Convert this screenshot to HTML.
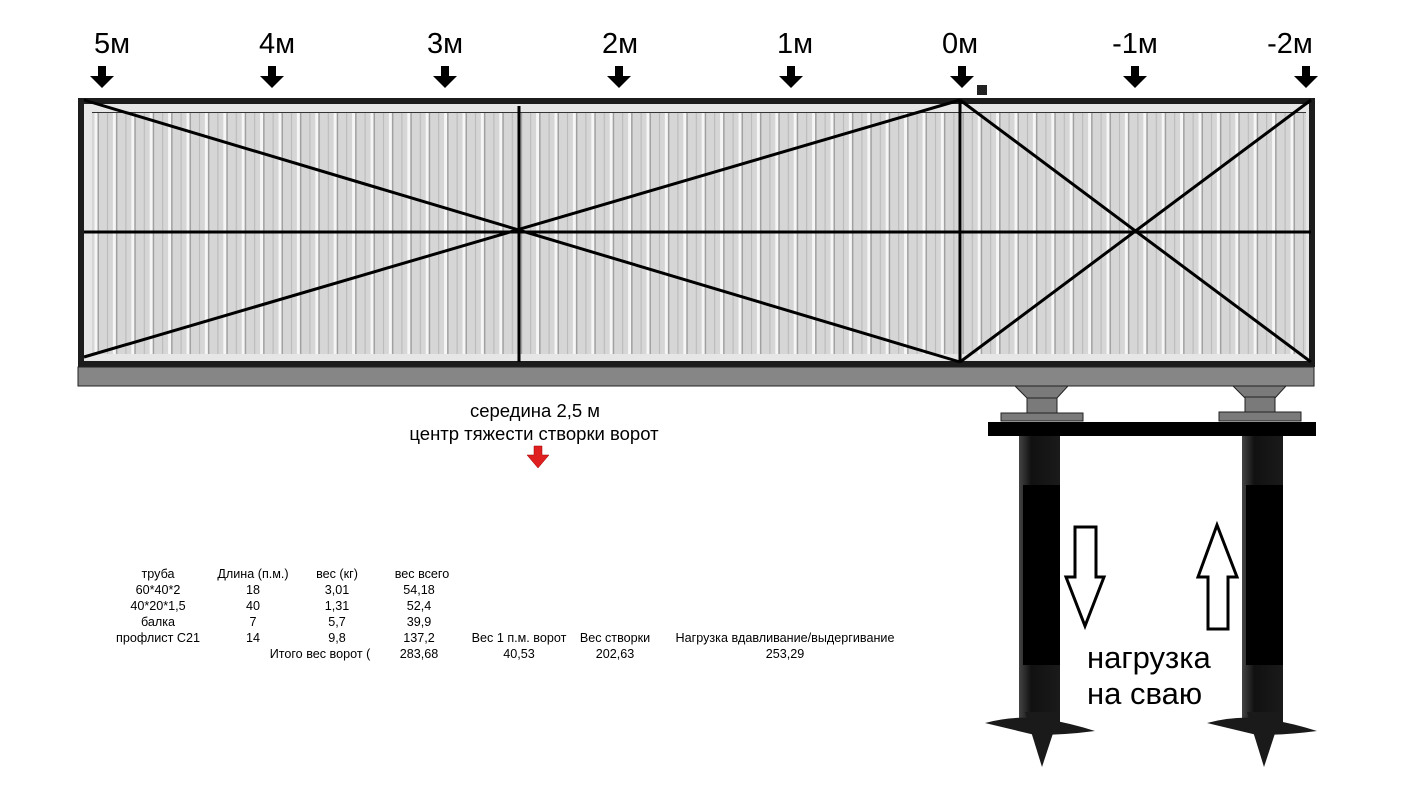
<!DOCTYPE html>
<html><head><meta charset="utf-8"><style>
body{margin:0;background:#fff;}
svg text{font-family:"Liberation Sans",sans-serif;}
</style></head><body>
<svg width="1420" height="787" viewBox="0 0 1420 787" xmlns="http://www.w3.org/2000/svg">
<defs>
<pattern id="rib" x="92" y="0" width="18.4" height="10" patternUnits="userSpaceOnUse">
<rect width="18.4" height="10" fill="#d6d6d6"/>
<rect x="2.5" width="3" height="10" fill="#f6f6f6"/>
<rect x="5.5" width="1.5" height="10" fill="#a0a0a0"/>
<rect x="15" width="1" height="10" fill="#b8b8b8"/>
</pattern>
<linearGradient id="pile" x1="0" x2="1">
<stop offset="0" stop-color="#444"/><stop offset="0.3" stop-color="#111"/><stop offset="1" stop-color="#1a1a1a"/>
</linearGradient>
</defs>

<g font-size="29" fill="#000" text-anchor="middle">
<text x="112" y="53">5м</text><text x="277" y="53">4м</text><text x="445" y="53">3м</text>
<text x="620" y="53">2м</text><text x="795" y="53">1м</text><text x="960" y="53">0м</text>
<text x="1135" y="53">-1м</text><text x="1290" y="53">-2м</text>
</g>
<g fill="#000">
<path id="da" d="M-4,66 h8 v10 h8 l-12,12 l-12,-12 h8z" transform="translate(102,0)"/>
<use href="#da" x="170"/><use href="#da" x="343"/><use href="#da" x="517"/>
<use href="#da" x="689"/><use href="#da" x="860"/><use href="#da" x="1033"/><use href="#da" x="1204"/>
</g>
<rect x="977" y="85" width="10" height="10" fill="#222"/>

<rect x="84" y="104" width="1227" height="257" fill="#e6e6e6"/>
<rect x="92" y="112" width="1214" height="242" fill="url(#rib)"/>
<rect x="92" y="112" width="1214" height="1" fill="#333"/>
<rect x="78" y="98" width="1237" height="6" fill="#1c1c1c"/>
<rect x="78" y="98" width="6" height="268" fill="#1c1c1c"/>
<rect x="1309" y="98" width="6" height="268" fill="#1c1c1c"/>
<rect x="78" y="361" width="1237" height="6" fill="#1c1c1c"/>
<rect x="78" y="367" width="1236" height="19" fill="#868686" stroke="#222" stroke-width="1"/>
<g stroke="#000" stroke-width="3">
<line x1="84" y1="232" x2="1311" y2="232"/>
<line x1="519" y1="106" x2="519" y2="362"/>
<line x1="960" y1="100" x2="960" y2="362"/>
<line x1="84" y1="100" x2="960" y2="362"/>
<line x1="84" y1="357" x2="960" y2="100"/>
<line x1="960" y1="100" x2="1311" y2="362"/>
<line x1="960" y1="362" x2="1311" y2="100"/>
</g>

<g fill="#7a7a7a" stroke="#222" stroke-width="1">
<path d="M1015,386 h53 l-11,12 h-30z"/><rect x="1027" y="398" width="30" height="15"/><rect x="1001" y="413" width="82" height="8"/>
<path d="M1233,386 h53 l-11,12 h-30z"/><rect x="1245" y="397" width="30" height="16"/><rect x="1219" y="412" width="82" height="9"/>
</g>
<rect x="988" y="422" width="328" height="14" fill="#000"/>

<rect x="1019" y="436" width="41" height="290" fill="url(#pile)"/>
<rect x="1023" y="485" width="37" height="180" fill="#000"/>
<rect x="1242" y="436" width="41" height="290" fill="url(#pile)"/>
<rect x="1246" y="485" width="37" height="180" fill="#000"/>
<g fill="#1a1a1a">
<path d="M985,723 q30,-8 60,-4 q25,4 50,12 q-30,4 -60,4z"/>
<path d="M1025,712 h35 l-18,55z"/>
<path d="M1207,723 q30,-8 60,-4 q25,4 50,12 q-30,4 -60,4z"/>
<path d="M1247,712 h35 l-18,55z"/>
</g>

<path d="M1075,527 h21 v50 h8 l-19,49 l-19,-49 h9z" fill="#fff" stroke="#000" stroke-width="3"/>
<path d="M1217,525 l20,52 h-9 v52 h-20 v-52 h-10z" fill="#fff" stroke="#000" stroke-width="3"/>
<g font-size="31" fill="#000">
<text x="1087" y="668">нагрузка</text><text x="1087" y="704">на сваю</text>
</g>

<g font-size="18.5" fill="#000" text-anchor="middle">
<text x="535" y="417">середина 2,5 м</text>
<text x="534" y="440">центр тяжести створки ворот</text>
</g>
<path d="M534,446 h8 v9 h7 l-11,13 l-11,-13 h7z" fill="#e02020" stroke="#900" stroke-width="0.5"/>

<g font-size="12.6" fill="#000" text-anchor="middle">
<text x="158" y="578">труба</text><text x="253" y="578">Длина (п.м.)</text><text x="337" y="578">вес (кг)</text><text x="422" y="578">вес всего</text>
<text x="158" y="594">60*40*2</text><text x="253" y="594">18</text><text x="337" y="594">3,01</text><text x="419" y="594">54,18</text>
<text x="158" y="610">40*20*1,5</text><text x="253" y="610">40</text><text x="337" y="610">1,31</text><text x="419" y="610">52,4</text>
<text x="158" y="626">балка</text><text x="253" y="626">7</text><text x="337" y="626">5,7</text><text x="419" y="626">39,9</text>
<text x="158" y="642">профлист С21</text><text x="253" y="642">14</text><text x="337" y="642">9,8</text><text x="419" y="642">137,2</text>
<text x="519" y="642">Вес 1 п.м. ворот</text><text x="615" y="642">Вес створки</text><text x="785" y="642">Нагрузка вдавливание/выдергивание</text>
<text x="320" y="658">Итого вес ворот (</text><text x="419" y="658">283,68</text><text x="519" y="658">40,53</text><text x="615" y="658">202,63</text><text x="785" y="658">253,29</text>
</g>
</svg>
</body></html>
